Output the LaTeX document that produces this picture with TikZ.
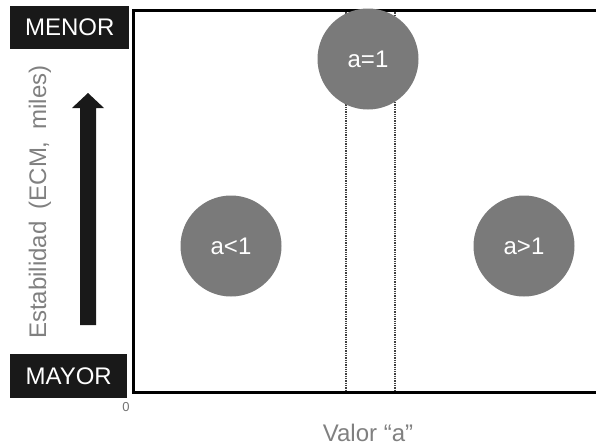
\documentclass[tikz,border=0pt]{standalone}
\usepackage{fontspec}
\setmainfont{Liberation Sans}
\begin{document}
\begin{tikzpicture}[x=1pt,y=-1pt,
  lab/.style={fill=black!90,text=white,font=\fontsize{24}{26}\selectfont,inner sep=0pt,anchor=north west},
  ball/.style={circle,fill=black!52,text=white,minimum size=101pt,inner sep=0pt,font=\fontsize{24}{26}\selectfont},
  frame/.style={line width=3pt,black},
  guide/.style={densely dotted,line width=1.3pt,black!75},
  axis/.style={text=black!50,font=\fontsize{24}{26}\selectfont}]
\useasboundingbox (0,0) rectangle (596,447);
% dotted guides
\coordinate (g1t) at (346,10); \coordinate (g1b) at (346,392);
\coordinate (g2t) at (395,10); \coordinate (g2b) at (395,392);
\draw[guide] (g1t) -- (g1b);
\draw[guide] (g2t) -- (g2b);
% frame
\coordinate (fl) at (133,10); \coordinate (fr) at (596,10);
\coordinate (bl) at (133,392); \coordinate (br) at (596,392);
\draw[frame] (fr) -- (fl) -- (bl) -- (br);
% circles
\node[ball] (one) at (368,59) {a=1};
\node[ball] (lt) at (231,246) {a<1};
\node[ball] (gt) at (524,246) {a>1};
% labels
\node[lab,minimum width=119pt,minimum height=43pt] (menor) at (10,6) {MENOR};
\node[lab,minimum width=117pt,minimum height=44pt] (mayor) at (10,354) {MAYOR};
\node[text=black!55,font=\fontsize{13}{14}\selectfont,inner sep=0pt] (zero) at (126,407) {0};
\node[axis,rotate=90] (ylab) at (40,202) {Estabilidad\hspace{0.5em}(ECM,\hspace{0.5em}miles)};
\node[axis,anchor=base,inner sep=0pt] (xlab) at (368,441) {Valor “a”};
% arrow
\fill[black!90] (80,325) -- (96,325) -- (96,108) -- (104,108) -- (88,93) -- (72,108) -- (80,108) -- cycle;
\end{tikzpicture}
\end{document}
